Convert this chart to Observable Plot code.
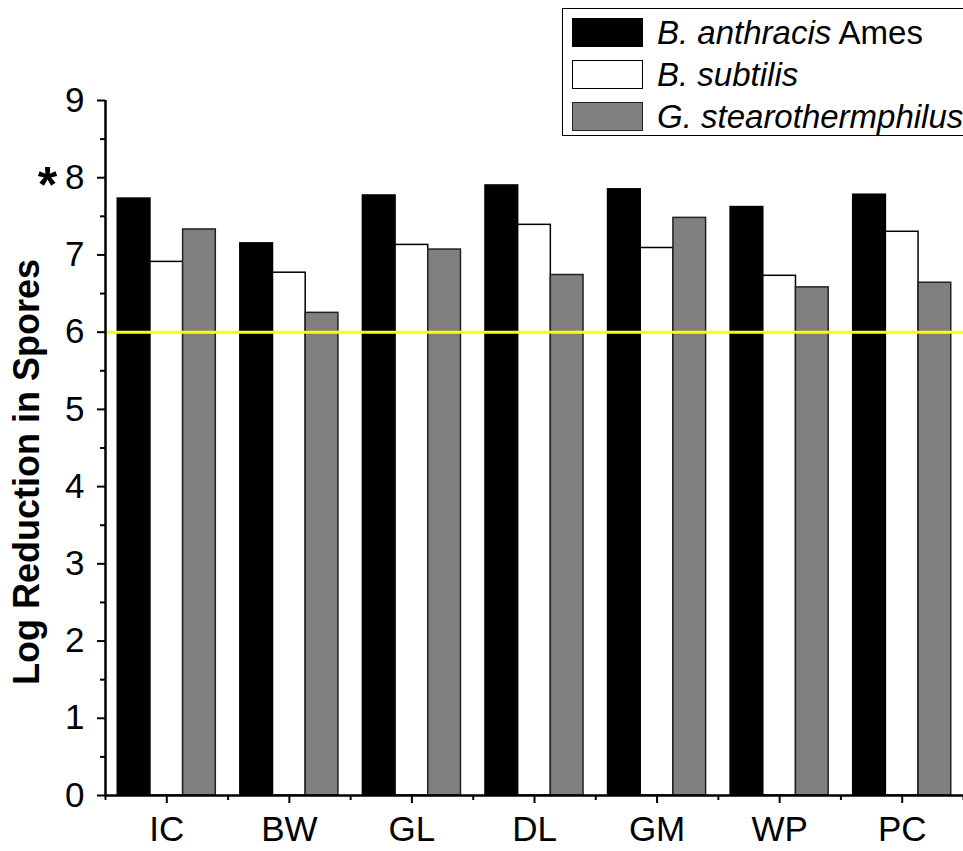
<!DOCTYPE html>
<html>
<head>
<meta charset="utf-8">
<script src="https://cdn.jsdelivr.net/npm/d3@7"></script>
<script src="https://cdn.jsdelivr.net/npm/@observablehq/plot@0.6"></script>
<style>
  html, body { margin: 0; padding: 0; background: #fff; overflow: hidden; }
  #wrap { position: relative; width: 963px; height: 851px; font-family: "Liberation Sans", Arial, sans-serif; }
  #legend { position: absolute; left: 562px; top: 8px; width: 430px; height: 128px; border: 1.5px solid #000; background: #fff; box-sizing: border-box; }
  .row { position: absolute; left: 9px; height: 29px; display: flex; align-items: center; white-space: nowrap; }
  .sw { width: 71px; height: 29px; box-sizing: border-box; border: 1.5px solid #000; margin-right: 14px; }
  .lab { font-size: 33px; color: #000; }
</style>
</head>
<body>
<div id="wrap"><div id="legend"></div></div>
<script>
const categories = ["IC", "BW", "GL", "DL", "GM", "WP", "PC"];
const seriesNames = ["B. anthracis Ames", "B. subtilis", "G. stearothermphilus"];
const legendItalic = ["B. anthracis", "B. subtilis", "G. stearothermphilus"];
const legendPlain = [" Ames", "", ""];
const anthracis = [7.73, 7.15, 7.77, 7.90, 7.85, 7.62, 7.78];
const subtilis  = [6.91, 6.77, 7.13, 7.39, 7.09, 6.73, 7.30];
const stearo    = [7.33, 6.25, 7.07, 6.74, 7.48, 6.58, 6.64];
const seriesFills = ["#000000", "#ffffff", "#808080"];
const yTicks = [0, 1, 2, 3, 4, 5, 6, 7, 8, 9];
const threshold = [6];
const annotations = [{value: 8, label: "*"}];
const yTitle = "Log Reduction in Spores";

const seriesValues = [anthracis, subtilis, stearo];
const data = [];
categories.forEach((c, i) => {
  seriesValues.forEach((vals, k) => {
    data.push({cat: c, index: i, k, series: seriesNames[k], value: vals[i]});
  });
});
const groupW = 0.8, barW = groupW / 3;
const font = "Liberation Sans, Arial, sans-serif";

const chart = Plot.plot({
  width: 963,
  height: 851,
  marginLeft: 105,
  marginRight: 0,
  marginTop: 100,
  marginBottom: 56,
  style: {fontFamily: font, color: "#000", background: "#fff"},
  x: {type: "linear", domain: [-0.5, categories.length - 0.5], axis: null},
  y: {domain: [0, 9], axis: null},
  color: {domain: seriesNames, range: seriesFills},
  marks: [
    Plot.rect(data, {
      x1: d => d.index - groupW / 2 + d.k * barW,
      x2: d => d.index - groupW / 2 + (d.k + 1) * barW,
      y1: 0,
      y2: "value",
      fill: "series",
      stroke: d => d.k === 2 ? "#222" : "#000",
      strokeWidth: 1.5
    }),
    Plot.ruleY(threshold, {stroke: "#ffff00", strokeWidth: 3}),
    Plot.axisY({ticks: d3.range(0.5, 9, 1), tickSize: 5, tickFormat: () => "", strokeWidth: 2, label: null}),
    Plot.axisY({ticks: yTicks, tickSize: 8, tickPadding: 13, fontSize: 35, strokeWidth: 2, label: null}),
    Plot.axisX({ticks: d3.range(-0.5, categories.length, 1), tickSize: 5, tickFormat: () => "", strokeWidth: 2, label: null}),
    Plot.axisX({ticks: d3.range(categories.length), tickFormat: i => categories[i], tickSize: 8, tickPadding: 13, fontSize: 35, strokeWidth: 2, label: null}),
    Plot.ruleX([-0.5], {strokeWidth: 2.5}),
    Plot.ruleY([0], {strokeWidth: 2.5}),
    Plot.text([yTitle], {frameAnchor: "left", textAnchor: "middle", rotate: -90, dx: -78, dy: 24, fontSize: 36, fontWeight: "bold"}),
    Plot.text(annotations, {y: "value", text: "label", frameAnchor: "left", textAnchor: "middle", dx: -58, dy: 8, fontSize: 50, fontWeight: "bold"})
  ]
});
document.getElementById("wrap").prepend(chart);

const legend = document.getElementById("legend");
seriesNames.forEach((s, i) => {
  const row = document.createElement("div");
  row.className = "row";
  row.style.top = (9 + 42 * i) + "px";
  const sw = document.createElement("div");
  sw.className = "sw";
  sw.style.background = seriesFills[i];
  if (i === 2) sw.style.borderColor = "#222";
  const lab = document.createElement("span");
  lab.className = "lab";
  const it = document.createElement("i");
  it.textContent = legendItalic[i];
  lab.appendChild(it);
  if (legendPlain[i]) lab.appendChild(document.createTextNode(legendPlain[i]));
  row.appendChild(sw);
  row.appendChild(lab);
  legend.appendChild(row);
});
</script>
</body>
</html>
